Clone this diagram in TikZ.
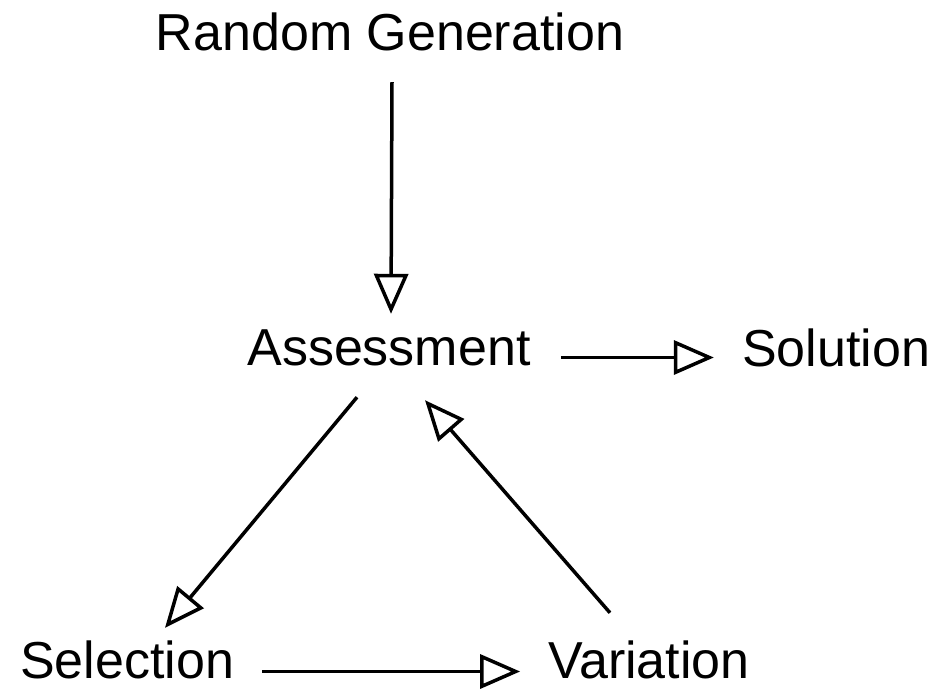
\documentclass[tikz,border=0pt]{standalone}
\usepackage{fontspec}
\setmainfont{Liberation Sans}
\usetikzlibrary{arrows.meta}
\begin{document}
\begin{tikzpicture}[x=1pt,y=-1pt,
  lbl/.style={inner sep=0pt,anchor=base,font=\fontsize{52}{60}\selectfont,text height=37pt,text depth=0pt},
  arr/.style={line width=3.5pt,-{Triangle[open,length=40pt,width=34pt,line width=3.5pt]}}]
\useasboundingbox (0,0) rectangle (938,689);
\node[lbl] (rg) at (390,50) {Random Generation};
\node[lbl] (as) at (389,365) {Assessment};
\node[lbl] (sol) at (836,366) {Solution};
\node[lbl] (sel) at (127,678) {Selection};
\node[lbl] (var) at (649,678) {Variation};
\draw[arr] ([shift={(2,32)}]rg.south) -- ([shift={(2,-14)}]as.north);
\draw[arr] ([shift={(30,11)}]as.east) -- ([shift={(-28,10)}]sol.west);
\draw[arr] ([shift={(-32,32)}]as.south) -- ([shift={(38,-13)}]sel.north);
\draw[arr] ([shift={(-39,-28)}]var.north) -- ([shift={(36,35)}]as.south);
\draw[arr] ([shift={(28,12)}]sel.east) -- ([shift={(-28,12)}]var.west);
\end{tikzpicture}
\end{document}
